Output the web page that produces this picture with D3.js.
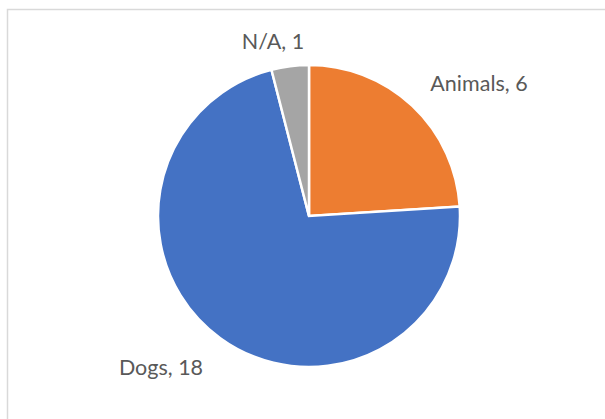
<!DOCTYPE html>
<html>
<head>
<meta charset="utf-8">
<script src="https://cdn.jsdelivr.net/npm/d3@7"></script>
<style>
  html, body { margin: 0; padding: 0; background: #fff; }
  svg { display: block; }
</style>
</head>
<body>
<svg id="chart" width="605" height="419"></svg>
<script>
// Slice data, in drawing order (clockwise from 12 o'clock)
const categories = ["Animals", "Dogs", "N/A"];
const values = [6, 18, 1];
const colors = ["#ED7D31", "#4472C4", "#A5A5A5"];
// Label anchor points (centre x, baseline y)
const labelPos = [[479, 91], [161, 375], [273, 49]];

const svg = d3.select("#chart");

// Chart-area frame
svg.append("rect")
  .attr("x", 7.5).attr("y", 9.5)
  .attr("width", 620).attr("height", 430)
  .attr("fill", "none")
  .attr("stroke", "#d9d9d9")
  .attr("stroke-width", 1.5);

const cx = 309, cy = 216, r = 151;

const pie = d3.pie().sort(null).value(d => d.value);
const arc = d3.arc().innerRadius(0).outerRadius(r);

const data = categories.map((c, i) => ({ name: c, value: values[i], color: colors[i], pos: labelPos[i] }));
const arcs = pie(data);

const g = svg.append("g").attr("transform", `translate(${cx},${cy})`);
g.selectAll("path")
  .data(arcs)
  .join("path")
  .attr("d", arc)
  .attr("fill", d => d.data.color)
  .attr("stroke", "#fff")
  .attr("stroke-width", 2.5)
  .attr("stroke-linejoin", "miter");

svg.selectAll("text.lbl")
  .data(arcs)
  .join("text")
  .attr("class", "lbl")
  .attr("x", d => d.data.pos[0])
  .attr("y", d => d.data.pos[1])
  .attr("text-anchor", "middle")
  .attr("font-family", "Lato, 'Open Sans', sans-serif")
  .attr("font-size", 21.5)
  .attr("fill", "#595959")
  .text(d => `${d.data.name}, ${d.data.value}`);
</script>
</body>
</html>
